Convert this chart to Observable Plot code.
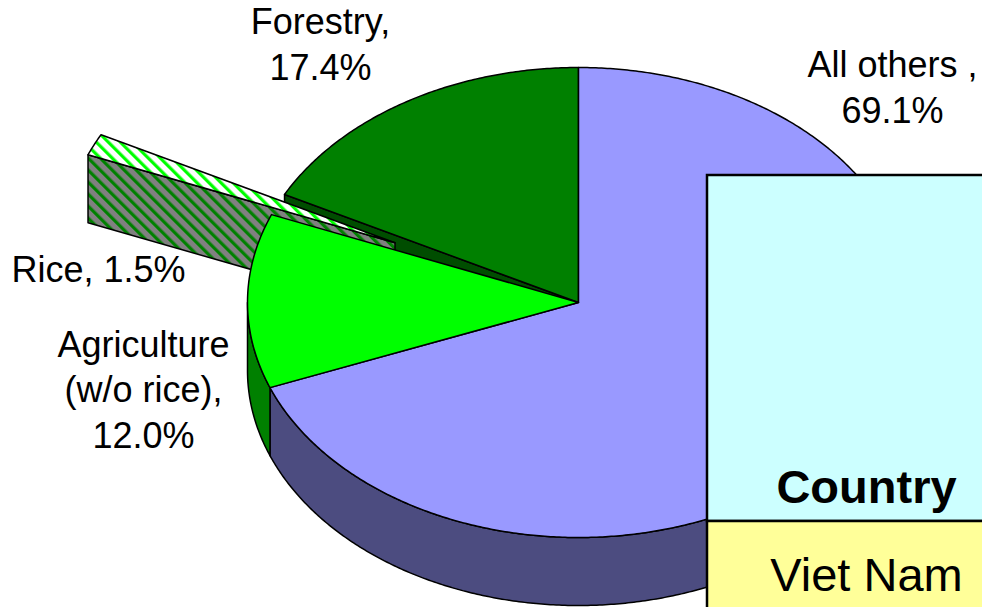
<!DOCTYPE html>
<html><head><meta charset="utf-8">
<script src="https://cdn.jsdelivr.net/npm/d3@7"></script>
<script src="https://cdn.jsdelivr.net/npm/@observablehq/plot@0.6"></script>
<style>html,body{margin:0;padding:0;background:#fff;} #chart svg{display:block;}</style>
</head><body><div id="chart"></div>
<script>
// ---- data ----
const categories = ["All others", "Agriculture (w/o rice)", "Rice", "Forestry"];
const shares = [69.1, 12.0, 1.5, 17.4];
const labelNames = ["All others ,", "Agriculture\n(w/o rice),", "Rice,", "Forestry,"];
const labelSeps = ["\n", "\n", " ", "\n"];
const topColors = ["#9999FF", "#00FF00", "url(#riceTop)", "#008000"];
const sideColors = ["#4C4C80", "#008000", "url(#riceSide)", "#004D00"];
const explode = [0, 0, 0.61, 0];
const tableHeader = "Country";
const tableValue = "Viet Nam";

// ---- layout ----
const W = 982, H = 607;
const pie = {cx: 578, cy: 302, rx: 331, ry: 235, depth: 68};
const labelPos = [{x: 892, y: 122}, {x: 143, y: 447}, {x: 98, y: 281}, {x: 320, y: 79}];
const table = {x1: 707, x2: 1030, yTop: 175, yMid: 521, yBot: 660, textX: 866, headY: 502, valY: 590};
const FONT = "Liberation Sans, Arial, Helvetica, sans-serif";

// ---- geometry ----
const arcs = d3.pie().sort(null).value(d => d)(shares);
function pt(a, off, dz) {
  return {x: pie.cx + off.x + pie.rx * Math.sin(a), y: pie.cy + off.y - pie.ry * Math.cos(a) + dz};
}
function arcPts(a0, a1, off, dz) {
  const n = Math.max(2, Math.ceil(Math.abs(a1 - a0) / (Math.PI / 360)));
  return d3.range(n + 1).map(i => pt(a0 + (a1 - a0) * i / n, off, dz));
}
function offsetOf(i) {
  const k = explode[i], m = (arcs[i].startAngle + arcs[i].endAngle) / 2;
  return {x: k * pie.rx * Math.sin(m), y: -k * pie.ry * Math.cos(m)};
}
function center(off, dz) { return {x: pie.cx + off.x, y: pie.cy + off.y + dz}; }
function topFace(i) {
  const off = offsetOf(i), a = arcs[i];
  return [center(off, 0), ...arcPts(a.startAngle, a.endAngle, off, 0)];
}
function radialWall(i, ang) {
  const off = offsetOf(i);
  return [center(off, 0), pt(ang, off, 0), pt(ang, off, pie.depth), center(off, pie.depth)];
}
function outerWall(i) {
  const off = offsetOf(i), a = arcs[i];
  const b0 = Math.max(a.startAngle, Math.PI / 2), b1 = Math.min(a.endAngle, 3 * Math.PI / 2);
  if (b0 >= b1) return null;
  return [...arcPts(b0, b1, off, 0), ...arcPts(b1, b0, off, pie.depth)];
}
const n = shares.length;
const separated = (i, j) => explode[i] > 0 || explode[j] > 0;
const faces = [];
// 1. radial walls of fixed slices that face a gap
for (let i = 0; i < n; i++) {
  if (explode[i] > 0) continue;
  const prev = (i - 1 + n) % n, next = (i + 1) % n;
  const s = arcs[i].startAngle, e = arcs[i].endAngle;
  if (separated(i, prev) && Math.sin(s) < 0) faces.push({pts: radialWall(i, s), fill: sideColors[i]});
  if (separated(i, next) && Math.sin(e) > 0) faces.push({pts: radialWall(i, e), fill: sideColors[i]});
}
// 2. top faces of fixed slices lying in the back half
const backOnly = i => Math.cos(arcs[i].startAngle) >= 0 && Math.cos(arcs[i].endAngle) >= 0 && (arcs[i].startAngle >= 1.5 * Math.PI || arcs[i].endAngle <= 0.5 * Math.PI);
for (let i = 0; i < n; i++) if (!explode[i] && backOnly(i)) faces.push({pts: topFace(i), fill: topColors[i]});
// 3. exploded slices
for (let i = 0; i < n; i++) {
  if (!explode[i]) continue;
  const s = arcs[i].startAngle, e = arcs[i].endAngle;
  if (Math.sin(s) < 0) faces.push({pts: radialWall(i, s), fill: sideColors[i]});
  if (Math.sin(e) > 0) faces.push({pts: radialWall(i, e), fill: sideColors[i]});
  const ow = outerWall(i); if (ow) faces.push({pts: ow, fill: sideColors[i]});
  faces.push({pts: topFace(i), fill: topColors[i]});
}
// 4. outer walls of fixed slices
for (let i = 0; i < n; i++) { if (explode[i]) continue; const ow = outerWall(i); if (ow) faces.push({pts: ow, fill: sideColors[i]}); }
// 5. remaining top faces
for (let i = 0; i < n; i++) if (!explode[i] && !backOnly(i)) faces.push({pts: topFace(i), fill: topColors[i]});

const labels = categories.map((c, i) => ({
  text: labelNames[i] + labelSeps[i] + shares[i].toFixed(1) + "%",
  x: labelPos[i].x, y: labelPos[i].y
}));

const svg = Plot.plot({
  width: W, height: H, margin: 0,
  x: {domain: [0, W], range: [0, W], axis: null},
  y: {domain: [0, H], range: [0, H], axis: null},
  marks: [
    ...faces.map(f => Plot.line(f.pts, {x: "x", y: "y", fill: f.fill, stroke: "black", strokeWidth: 1.5, curve: "linear-closed", strokeLinejoin: "round"})),
    Plot.text(labels, {x: "x", y: "y", text: "text", textAnchor: "middle", lineAnchor: "bottom", lineHeight: 1.26, fontSize: 36, fontFamily: FONT, fill: "black"}),
    Plot.rect([table], {x1: "x1", x2: "x2", y1: "yTop", y2: "yMid", fill: "#CCFFFF", stroke: "black", strokeWidth: 2.5}),
    Plot.rect([table], {x1: "x1", x2: "x2", y1: "yMid", y2: "yBot", fill: "#FFFF99", stroke: "black", strokeWidth: 2.5}),
    Plot.text([table], {x: "textX", y: "headY", text: () => tableHeader, textAnchor: "middle", lineAnchor: "bottom", fontSize: 47, fontWeight: "bold", fontFamily: FONT, fill: "black"}),
    Plot.text([table], {x: "textX", y: "valY", text: () => tableValue, textAnchor: "middle", lineAnchor: "bottom", fontSize: 47, fontFamily: FONT, fill: "black"})
  ]
});

const defs = d3.select(svg).insert("defs", ":first-child");
function hatch(id, bg, fg) {
  const p = defs.append("pattern").attr("id", id).attr("patternUnits", "userSpaceOnUse")
    .attr("width", 8.5).attr("height", 8.5).attr("patternTransform", "rotate(-45)");
  p.append("rect").attr("width", 8.5).attr("height", 8.5).attr("fill", bg);
  p.append("rect").attr("width", 3.2).attr("height", 8.5).attr("fill", fg);
}
hatch("riceTop", "#FFFFFF", "#00FF00");
hatch("riceSide", "#808080", "#008000");
document.getElementById("chart").appendChild(svg);
</script>
</body></html>
